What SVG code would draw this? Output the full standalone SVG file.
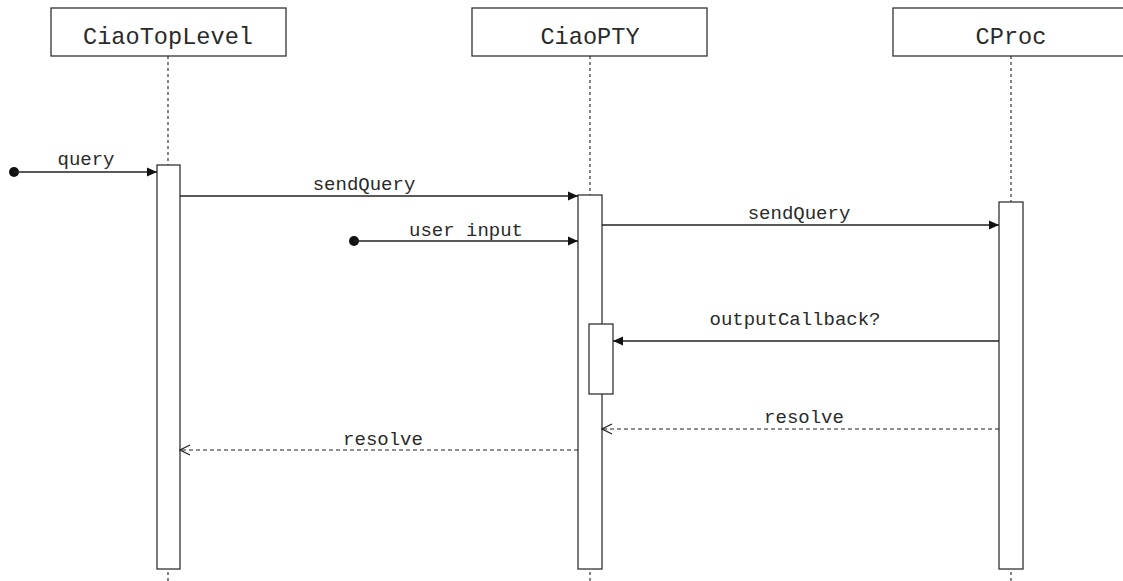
<svg xmlns="http://www.w3.org/2000/svg" width="1123" height="581" viewBox="0 0 1123 581">
  <style>
    .box { fill: #fff; stroke: #333; stroke-width: 1.3; }
    .life { stroke: #333; stroke-width: 1.2; stroke-dasharray: 3 3; fill: none; }
    .msg { stroke: #222; stroke-width: 1.3; fill: none; }
    .ret { stroke: #222; stroke-width: 1.2; fill: none; stroke-dasharray: 4 3; }
    .title { font-family: "Liberation Mono", "Courier New", monospace; font-size: 23.6px; fill: #2a2a2a; text-anchor: middle; }
    .label { font-family: "Liberation Mono", "Courier New", monospace; font-size: 19px; fill: #2a2a2a; text-anchor: middle; }
  </style>
  <defs>
    <marker id="solidHead" viewBox="0 0 10 10" refX="10" refY="5" markerWidth="10" markerHeight="10" markerUnits="userSpaceOnUse" orient="auto">
      <path d="M0,0.5 L10,5 L0,9.5 Z" fill="#111"/>
    </marker>
    <marker id="openHead" viewBox="0 0 12 12" refX="11" refY="6" markerWidth="12" markerHeight="12" markerUnits="userSpaceOnUse" orient="auto">
      <path d="M1,1 L11,6 L1,11" fill="none" stroke="#222" stroke-width="1.2"/>
    </marker>
  </defs>

  <rect width="1123" height="581" fill="#fff"/>

  <!-- lifelines -->
  <g id="lifelines">
    <line class="life" x1="168" y1="56" x2="168" y2="581"/>
    <line class="life" x1="590" y1="56" x2="590" y2="581"/>
    <line class="life" x1="1011" y1="56" x2="1011" y2="581"/>
  </g>

  <!-- participants -->
  <g id="CiaoTopLevel">
    <rect class="box" x="51" y="8" width="235" height="48"/>
    <text class="title" x="168" y="44">CiaoTopLevel</text>
    <rect class="box" x="157" y="165" width="23" height="404"/>
  </g>
  <g id="CiaoPTY">
    <rect class="box" x="472" y="8" width="235" height="48"/>
    <text class="title" x="590" y="44">CiaoPTY</text>
    <rect class="box" x="578" y="195" width="24" height="374"/>
    <rect class="box" x="589" y="324" width="24" height="70"/>
  </g>
  <g id="CProc">
    <rect class="box" x="893" y="8" width="235" height="48"/>
    <text class="title" x="1011" y="44">CProc</text>
    <rect class="box" x="999" y="202" width="24" height="367"/>
  </g>

  <!-- messages -->
  <g id="connectors">
    <circle cx="14" cy="172" r="5" fill="#111"/>
    <line class="msg" x1="14" y1="172" x2="157" y2="172" marker-end="url(#solidHead)"/>
    <text class="label" x="86" y="165">query</text>

    <line class="msg" x1="180" y1="196" x2="578" y2="196" marker-end="url(#solidHead)"/>
    <text class="label" x="364" y="190">sendQuery</text>

    <circle cx="354" cy="241" r="5" fill="#111"/>
    <line class="msg" x1="354" y1="241" x2="578" y2="241" marker-end="url(#solidHead)"/>
    <text class="label" x="466" y="236">user input</text>

    <line class="msg" x1="602" y1="225" x2="999" y2="225" marker-end="url(#solidHead)"/>
    <text class="label" x="799" y="219">sendQuery</text>

    <line class="msg" x1="999" y1="341" x2="613" y2="341" marker-end="url(#solidHead)"/>
    <text class="label" x="795" y="325">outputCallback?</text>

    <line class="ret" x1="999" y1="429" x2="602" y2="429" marker-end="url(#openHead)"/>
    <text class="label" x="804" y="423">resolve</text>

    <line class="ret" x1="578" y1="450" x2="180" y2="450" marker-end="url(#openHead)"/>
    <text class="label" x="383" y="445">resolve</text>
  </g>
</svg>
